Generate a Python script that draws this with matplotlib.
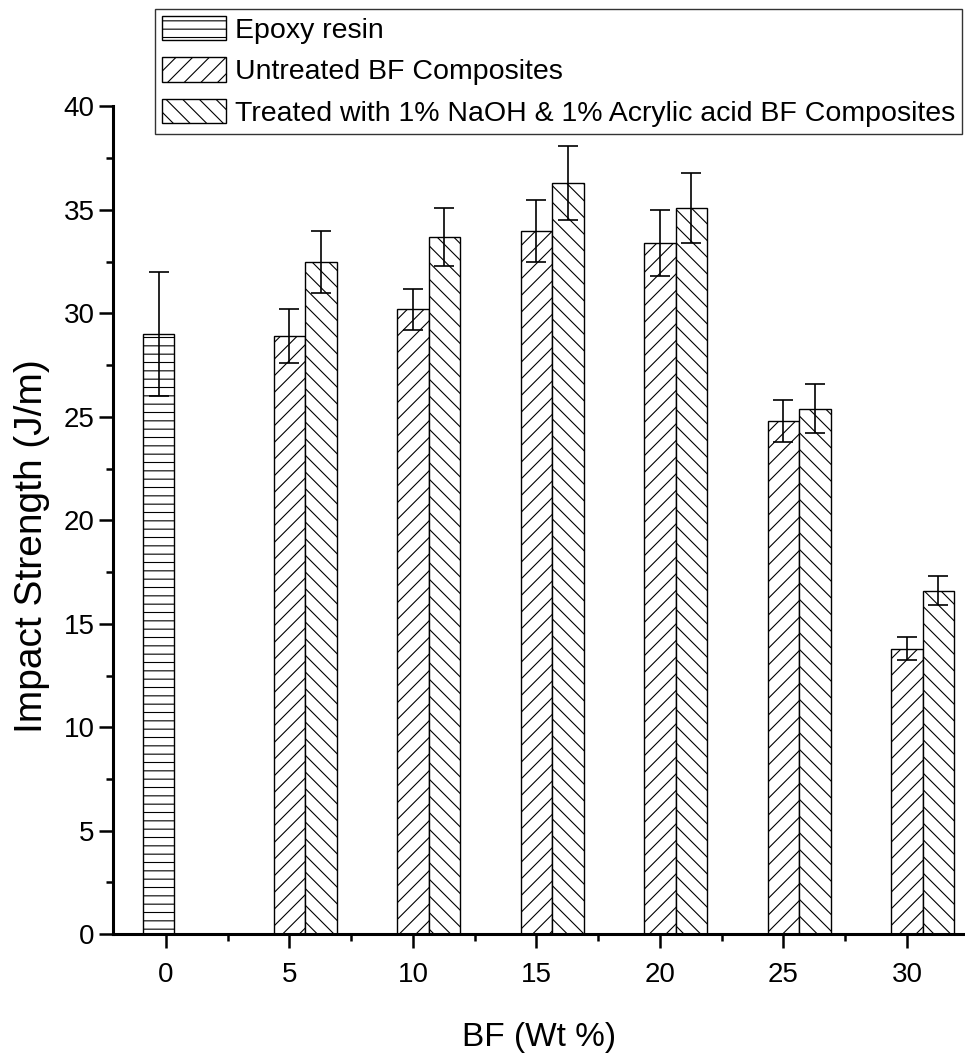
import matplotlib.pyplot as plt
from matplotlib.ticker import MultipleLocator

plt.rcParams['font.family'] = ['Liberation Sans Narrow', 'Liberation Sans', 'DejaVu Sans']
plt.rcParams['hatch.linewidth'] = 0.8

# impact strength (J/m) against fibre loading (wt %)
fibre_wt = [5, 10, 15, 20, 25, 30]
epoxy_mean = [29.0]
epoxy_err = [3.0]
untreated_mean = [28.9, 30.2, 34.0, 33.4, 24.8, 13.8]
untreated_err = [1.3, 1.0, 1.5, 1.6, 1.0, 0.55]
treated_mean = [32.5, 33.7, 36.3, 35.1, 25.4, 16.6]
treated_err = [1.5, 1.4, 1.8, 1.7, 1.2, 0.7]

labels = ['Epoxy resin', 'Untreated BF Composites',
          'Treated with 1% NaOH & 1% Acrylic acid BF Composites']

width = 1.27
fig = plt.figure(figsize=(9.65, 10.64), dpi=100)
ax = fig.add_axes([0.117, 0.122, 0.883, 0.778])

err_kw = dict(ecolor='black', elinewidth=1.2, capsize=7, capthick=1.2)
ax.bar([-0.3], epoxy_mean, width, yerr=epoxy_err, color='white', edgecolor='black',
       linewidth=1.0, hatch='--', error_kw=err_kw, label=labels[0])
ax.bar(fibre_wt, untreated_mean, width, yerr=untreated_err, color='white', edgecolor='black',
       linewidth=1.0, hatch='//', error_kw=err_kw, label=labels[1])
ax.bar([x + width for x in fibre_wt], treated_mean, width, yerr=treated_err, color='white',
       edgecolor='black', linewidth=1.0, hatch='\\\\', error_kw=err_kw, label=labels[2])

ax.set_xlim(-2.15, 32.35)
ax.set_ylim(0, 40)
ax.xaxis.set_major_locator(MultipleLocator(5))
ax.xaxis.set_minor_locator(MultipleLocator(2.5))
ax.yaxis.set_major_locator(MultipleLocator(5))
ax.yaxis.set_minor_locator(MultipleLocator(2.5))
ax.tick_params(which='major', direction='out', length=10, width=1.8, labelsize=20, pad=3)
ax.tick_params(which='minor', direction='out', length=5, width=1.8)
ax.tick_params(axis='x', which='major', pad=10)
for side in ('top', 'right'):
    ax.spines[side].set_visible(False)
for side in ('left', 'bottom'):
    ax.spines[side].set_linewidth(2.2)

ax.set_xlabel('BF (Wt %)', fontsize=24)
ax.xaxis.set_label_coords(0.5, -0.106)
ax.set_ylabel('Impact Strength (J/m)', fontsize=28)
ax.yaxis.set_label_coords(-0.074, 0.469)

leg = ax.legend(loc='upper left', bbox_to_anchor=(0.0493, 1.118), fontsize=20.5,
                frameon=True, fancybox=False, edgecolor='black', handlelength=2.25,
                handleheight=0.95, labelspacing=0.47, handletextpad=0.3,
                borderpad=0.25, borderaxespad=0)
leg.get_frame().set_linewidth(1.0)

fig.savefig('out.png', dpi=100)
